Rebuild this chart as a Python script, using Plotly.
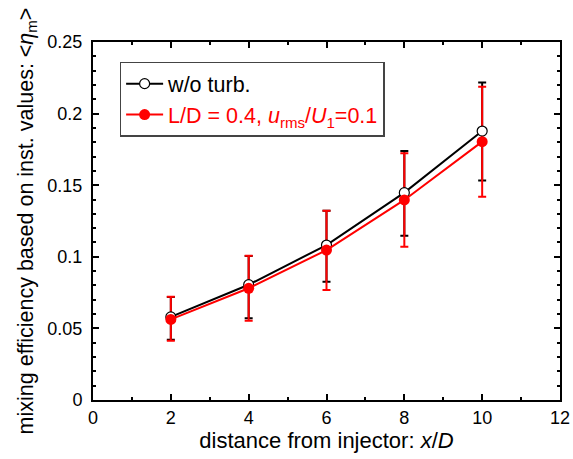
import plotly.graph_objects as go

x_pos = [2, 4, 6, 8, 10]

black_y = [0.058, 0.0805, 0.1082, 0.1448, 0.1878]
black_plus = [0.014, 0.020, 0.024, 0.029, 0.034]
black_minus = [0.016, 0.0234, 0.0256, 0.0301, 0.0346]

red_y = [0.0563, 0.078, 0.1047, 0.1397, 0.1804]
red_plus = [0.0158, 0.0228, 0.0275, 0.0326, 0.0384]
red_minus = [0.0149, 0.0226, 0.0279, 0.0326, 0.0384]

name_black = "w/o turb."
name_red = ("<span style='color:#ff0000'>L/D = 0.4, <i>u</i><sub>rms</sub>/"
            "<i>U</i><sub>1</sub>=0.1</span>")

FONT = "Liberation Sans, Arial, sans-serif"

fig = go.Figure()

# error bars (drawn beneath the lines and markers)
fig.add_trace(go.Scatter(
    x=x_pos, y=black_y, mode="markers", marker=dict(size=1, color="black", opacity=0),
    error_y=dict(type="data", symmetric=False, array=black_plus, arrayminus=black_minus,
                 color="black", thickness=2, width=4),
    showlegend=False, hoverinfo="skip"))
fig.add_trace(go.Scatter(
    x=x_pos, y=red_y, mode="markers", marker=dict(size=1, color="red", opacity=0),
    error_y=dict(type="data", symmetric=False, array=red_plus, arrayminus=red_minus,
                 color="#ff0000", thickness=2, width=4),
    showlegend=False, hoverinfo="skip"))

fig.add_trace(go.Scatter(
    x=x_pos, y=black_y, mode="lines+markers", name=name_black,
    line=dict(color="black", width=2),
    marker=dict(symbol="circle", size=10, color="white", line=dict(color="black", width=1.2))))
fig.add_trace(go.Scatter(
    x=x_pos, y=red_y, mode="lines+markers", name=name_red,
    line=dict(color="#ff0000", width=2),
    marker=dict(symbol="circle", size=11, color="#ff0000", line=dict(width=0))))

axis_common = dict(
    showgrid=False, zeroline=False, showline=True, linecolor="black", linewidth=2,
    mirror="ticks", ticks="inside", ticklen=6, tickwidth=2, tickcolor="black",
    tickfont=dict(family=FONT, size=18, color="black"),
)

fig.update_xaxes(
    range=[0, 12], tick0=0, dtick=2,
    minor=dict(dtick=1, ticks="inside", ticklen=3, tickwidth=2, tickcolor="black"),
    title=dict(text="distance from injector: <i>x</i>/<i>D</i>",
               font=dict(family=FONT, size=22, color="black"), standoff=2),
    **axis_common)
fig.update_yaxes(
    range=[0, 0.25], tick0=0, dtick=0.05,
    minor=dict(dtick=0.01, ticks="inside", ticklen=3, tickwidth=2, tickcolor="black"),
    tickformat="~g", ticklabelstandoff=5,
    title=dict(text="mixing efficiency based on inst. values: &lt;<i>η</i><sub>m</sub>&gt;",
               font=dict(family=FONT, size=21.5, color="black"), standoff=8),
    **axis_common)

fig.update_layout(
    width=573, height=459,
    margin=dict(l=93, r=13, t=42, b=59, autoexpand=False),
    paper_bgcolor="white", plot_bgcolor="white",
    font=dict(family=FONT, color="black"),
    showlegend=True,
    legend=dict(x=0.057, y=0.945, xanchor="left", yanchor="top",
                bgcolor="white", bordercolor="#444444", borderwidth=1.5,
                font=dict(family=FONT, size=21.5, color="black"),
                itemwidth=37, tracegroupgap=0, traceorder="normal"),
)

fig.write_html("out.html")
